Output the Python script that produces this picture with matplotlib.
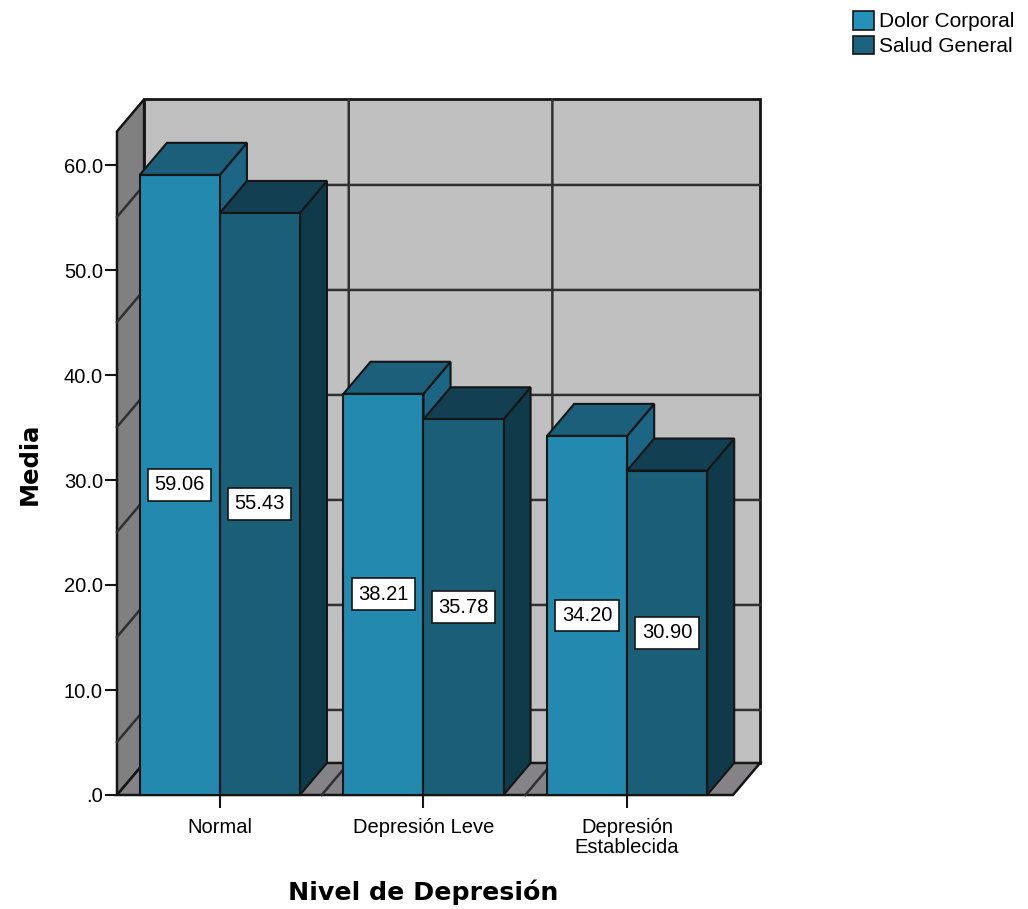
import numpy as np
import matplotlib
matplotlib.use("Agg")
import matplotlib.pyplot as plt
from matplotlib.patches import Polygon, Patch

plt.rcParams['font.family'] = ['Liberation Sans', 'DejaVu Sans']

# Datos: media por nivel de depresion
categorias = ["Normal", "Depresión Leve", "Depresión\nEstablecida"]
series = ["Dolor Corporal", "Salud General"]
dolor_corporal = [59.06, 38.21, 34.20]
salud_general = [55.43, 35.78, 30.90]
yticks = [0, 10, 20, 30, 40, 50, 60]

# colores de cada serie: frente, tapa, lateral
colores = {
    "Dolor Corporal": ("#2389ae", "#1b5f7b", "#1d6584"),
    "Salud General": ("#1b5e78", "#123f51", "#0f3a4a"),
}
col_leyenda = ["#2590b8", "#1c6380"]
borde = "#151515"

ancho = 0.393          # ancho de cada barra
dx, dy = 0.133, 3.05   # profundidad del efecto 3D
techo = 63.2           # alto de las paredes
desfase_pared = 4.95   # las lineas de las paredes van corridas
x_min, x_max = -0.505, 2.52

fig = plt.figure(figsize=(10.28, 9.09), dpi=100)
ax = fig.add_axes([117 / 1028, 114 / 909, 616 / 1028, 630 / 909])
ax.set_xlim(x_min, x_max)
ax.set_ylim(0, 60)
for s in ax.spines.values():
    s.set_visible(False)
ax.patch.set_visible(False)


def poly(pts, fc, z, lw=1.5):
    ax.add_patch(Polygon(pts, closed=True, fc=fc, ec=borde, lw=lw, zorder=z,
                         clip_on=False, joinstyle="miter"))


# paredes y piso
poly([(x_min + dx, dy), (x_max + dx, dy), (x_max + dx, techo + dy), (x_min + dx, techo + dy)], "#c0c0c0", 1, lw=2)
poly([(x_min, 0), (x_min + dx, dy), (x_min + dx, techo + dy), (x_min, techo)], "#808080", 1, lw=1.8)
poly([(x_min, 0), (x_max, 0), (x_max + dx, dy), (x_min + dx, dy)], "#858388", 1, lw=1.8)

# lineas de la grilla en las paredes
for v in yticks[1:]:
    g = v - desfase_pared
    ax.plot([x_min, x_min + dx, x_max + dx], [g, g + dy, g + dy],
            color="#303030", lw=1.8, zorder=2, clip_on=False)
for b in [0.5, 1.5]:
    ax.plot([b, b + dx, b + dx], [0, dy, techo + dy],
            color="#303030", lw=1.8, zorder=2, clip_on=False)

# barras 3D
pos = np.arange(len(categorias))
valores = [dolor_corporal, salud_general]
z = 3
for i, c in enumerate(pos):
    for j, nombre in enumerate(series):
        h = valores[j][i]
        x0 = c - ancho + j * ancho
        x1 = x0 + ancho
        fr, tp, ld = colores[nombre]
        poly([(x1, 0), (x1 + dx, dy), (x1 + dx, h + dy), (x1, h)], ld, z)
        poly([(x0, h), (x1, h), (x1 + dx, h + dy), (x0 + dx, h + dy)], tp, z)
        ax.bar(x0, h, width=ancho, align="edge", color=fr, edgecolor=borde,
               linewidth=1.5, zorder=z + 0.5, clip_on=False)
        ax.text(x0 + ancho / 2, h / 2, f"{h:.2f}", ha="center", va="center",
                fontsize=14.5, zorder=50,
                bbox=dict(boxstyle="square,pad=0.32", fc="white", ec=borde, lw=1.2))
        z += 1

# ejes
ax.set_yticks(yticks)
ax.set_yticklabels([".0" if v == 0 else f"{v:.1f}" for v in yticks])
ax.tick_params(axis="y", length=8.6, width=1.5, pad=1.5, labelsize=14.5, color=borde)
ax.set_xticks(pos)
ax.set_xticklabels(categorias, linespacing=1.1)
ax.tick_params(axis="x", length=9.5, width=1.5, pad=7, labelsize=14.5, color=borde)

fig.text(30 / 1028, 1 - 464 / 909, "Media", rotation=90, ha="center", va="center",
         fontsize=17.5, fontweight="bold", family="DejaVu Sans")
fig.text(423 / 1028, 1 - 892 / 909, "Nivel de Depresión", ha="center", va="center",
         fontsize=18.2, fontweight="bold", family="DejaVu Sans")

handles = [Patch(fc=col, ec=borde, lw=1.2) for col in col_leyenda]
fig.legend(handles=handles, labels=series, loc="upper left",
           bbox_to_anchor=(853 / 1028, 1 - 11 / 909), frameon=False, fontsize=15,
           handlelength=1.0, handleheight=1.0, handletextpad=0.25,
           labelspacing=0.2, borderpad=0, borderaxespad=0)

fig.savefig("out.png", dpi=100)
